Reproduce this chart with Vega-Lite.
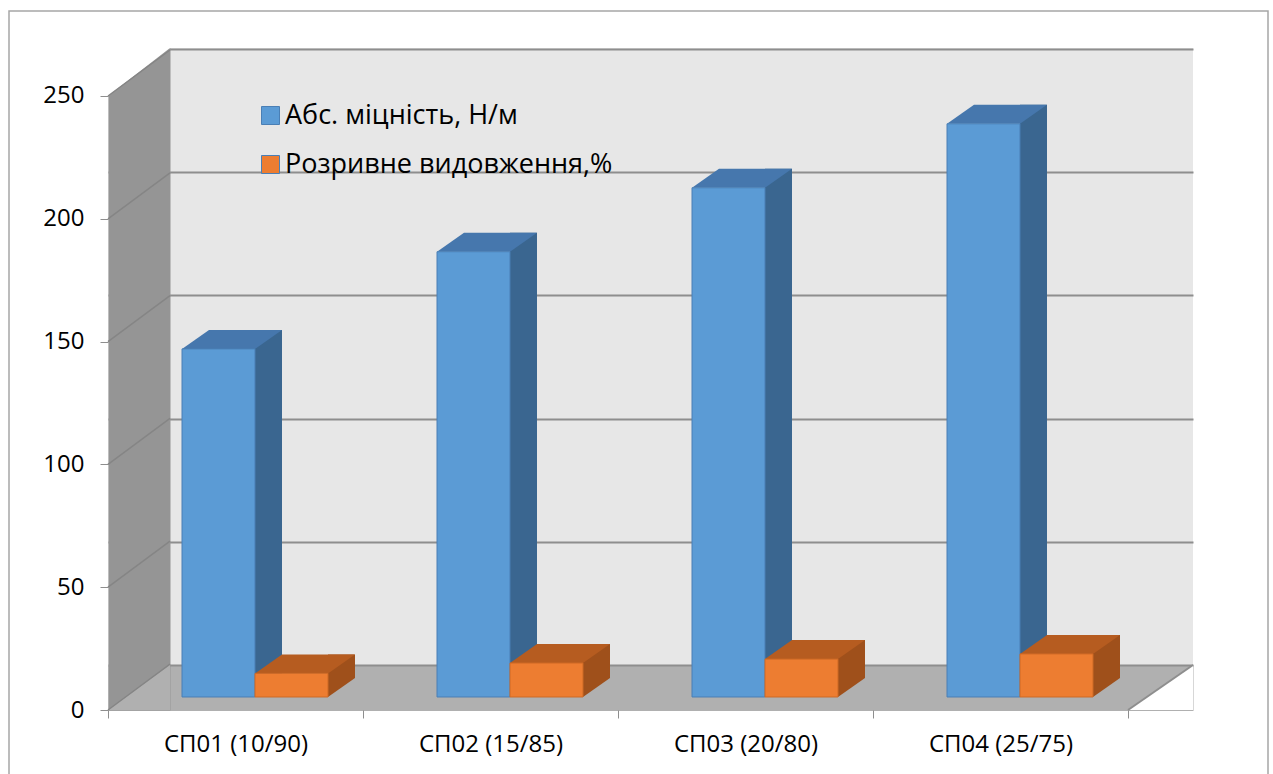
{
  "$schema": "https://vega.github.io/schema/vega-lite/v6.json",
  "width": 1085,
  "height": 662,
  "autosize": {"type": "none"},
  "padding": {"left": 108, "top": 48, "right": 80, "bottom": 64},
  "background": "white",
  "config": {
    "view": {"stroke": null, "fill": "#e7e7e7"},
    "font": "Open Sans, Lato, sans-serif"
  },
  "data": {
    "values": [
      {"cat": "СП01 (10/90)", "series": "Абс. міцність, Н/м", "value": 141.5},
      {"cat": "СП02 (15/85)", "series": "Абс. міцність, Н/м", "value": 181},
      {"cat": "СП03 (20/80)", "series": "Абс. міцність, Н/м", "value": 207},
      {"cat": "СП04 (25/75)", "series": "Абс. міцність, Н/м", "value": 233},
      {"cat": "СП01 (10/90)", "series": "Розривне видовження,%", "value": 9.6},
      {"cat": "СП02 (15/85)", "series": "Розривне видовження,%", "value": 13.8},
      {"cat": "СП03 (20/80)", "series": "Розривне видовження,%", "value": 15.4},
      {"cat": "СП04 (25/75)", "series": "Розривне видовження,%", "value": 17.5}
    ]
  },
  "resolve": {"scale": {"y": "independent"}},
  "layer": [
    {
      "mark": {"type": "point", "opacity": 0},
      "encoding": {
        "y": {
          "field": "value", "type": "quantitative",
          "scale": {"domain": [-18.26, 250.4], "nice": false, "zero": false},
          "axis": {
            "orient": "left", "offset": -31, "title": null,
            "values": [-9.13, 0, 50, 100, 150, 200, 250],
            "labels": false, "ticks": false,
            "domain": true, "domainColor": "#959595", "domainWidth": 62,
            "grid": true,
            "gridColor": {"condition": {"test": "datum.value < -1", "value": "#b0b0b0"}, "value": "#8e8e8e"},
            "gridWidth": {"condition": {"test": "datum.value < -1", "value": 45}, "value": 2}
          }
        },
        "fill": {
          "datum": 0.5, "type": "quantitative",
          "scale": {"domain": [0, 1], "range": ["rgba(255,255,255,0)", "rgba(255,255,255,0)"]},
          "legend": {
            "orient": "none", "legendX": -99, "legendY": -37, "title": null,
            "direction": "vertical", "gradientLength": 800, "gradientThickness": 1259,
            "gradientStrokeColor": "#a6a6a6", "gradientStrokeWidth": 1.5,
            "labelExpr": "''", "labelOpacity": 0, "padding": 0
          }
        }
      }
    },
    {
      "mark": {"type": "point", "opacity": 0},
      "encoding": {
        "y": {
          "field": "value", "type": "quantitative",
          "scale": {"domain": [0, 269.54], "nice": false},
          "axis": {
            "orient": "left", "title": null,
            "values": [0, 50, 100, 150, 200, 250],
            "grid": false, "domain": false,
            "tickSize": 8, "tickColor": "#8e8e8e", "tickWidth": 1,
            "labelFontSize": 24, "labelColor": "#000000", "labelPadding": 16
          }
        }
      }
    },
    {
      "transform": [{"filter": "datum.series === 'Абс. міцність, Н/м'"}],
      "mark": {"type": "bar", "color": "#3a6690", "width": {"band": 0.10588}, "xOffset": 33, "yOffset": -19, "y2Offset": -19},
      "encoding": {
        "x": {
          "field": "cat", "type": "nominal", "sort": null,
          "scale": {"domain": ["СП01 (10/90)", "СП02 (15/85)", "СП03 (20/80)", "СП04 (25/75)"], "paddingInner": 0, "paddingOuter": 0.12745, "align": 0},
          "axis": {
            "title": null, "domain": false, "tickBand": "extent", "tickSize": 8,
            "tickColor": "#8e8e8e", "labelFontSize": 24, "labelColor": "#000000",
            "labelPadding": 14, "labelAngle": 0, "labelAlign": "center", "grid": false
          }
        },
        "y": {"field": "value", "type": "quantitative", "scale": {"domain": [-5.285, 263.82], "nice": false, "zero": false}, "axis": null},
        "y2": {"datum": 0}
      }
    },
    {
      "transform": [{"filter": "datum.series === 'Абс. міцність, Н/м'"}],
      "mark": {"type": "point", "shape": "M -1 0.19 L 0.46 0.19 L 1 -0.19 L -0.46 -0.19 Z", "size": 10000, "filled": true, "opacity": 1, "color": "#4677ad", "strokeWidth": 0, "xOffset": -3.5, "yOffset": -9.5},
      "encoding": {
        "x": {"field": "cat", "type": "nominal", "sort": null},
        "y": {"field": "value", "type": "quantitative", "scale": {"domain": [-5.285, 263.82], "nice": false, "zero": false}, "axis": null}
      }
    },
    {
      "transform": [{"filter": "datum.series === 'Абс. міцність, Н/м'"}],
      "mark": {"type": "bar", "width": {"band": 0.28627}, "xOffset": -17, "stroke": "#4a7fb5", "strokeWidth": 1},
      "encoding": {
        "x": {"field": "cat", "type": "nominal", "sort": null},
        "y": {"field": "value", "type": "quantitative", "scale": {"domain": [-5.285, 263.82], "nice": false, "zero": false}, "axis": null},
        "y2": {"datum": 0},
        "color": {
          "field": "series", "type": "nominal",
          "scale": {"domain": ["Абс. міцність, Н/м", "Розривне видовження,%"], "range": ["#5b9bd5", "#ed7d31"]},
          "legend": {
            "orient": "none", "legendX": 149, "legendY": 54, "title": null,
            "symbolType": "square", "symbolSize": 324, "symbolStrokeWidth": 1,
            "labelFontSize": 27, "labelColor": "#000000", "labelOffset": 1,
            "rowPadding": 21, "padding": 0, "labelLimit": 500
          }
        }
      }
    },
    {
      "transform": [{"filter": "datum.series === 'Розривне видовження,%'"}],
      "mark": {"type": "bar", "color": "#9f501b", "width": {"band": 0.10588}, "xOffset": 106, "yOffset": -19, "y2Offset": -19},
      "encoding": {
        "x": {"field": "cat", "type": "nominal", "sort": null},
        "y": {"field": "value", "type": "quantitative", "scale": {"domain": [-5.285, 263.82], "nice": false, "zero": false}, "axis": null},
        "y2": {"datum": 0}
      }
    },
    {
      "transform": [{"filter": "datum.series === 'Розривне видовження,%'"}],
      "mark": {"type": "point", "shape": "M -0.27 -0.19 L -0.27 0.19 L 0.27 -0.19 Z", "size": 10000, "filled": true, "opacity": 1, "color": "#9f501b", "strokeWidth": 0, "xOffset": 106, "yOffset": -9.5},
      "encoding": {
        "x": {"field": "cat", "type": "nominal", "sort": null},
        "y": {"datum": 0, "type": "quantitative", "scale": {"domain": [-5.285, 263.82], "nice": false, "zero": false}, "axis": null}
      }
    },
    {
      "transform": [{"filter": "datum.series === 'Розривне видовження,%'"}],
      "mark": {"type": "point", "shape": "M -1 0.19 L 0.46 0.19 L 1 -0.19 L -0.46 -0.19 Z", "size": 10000, "filled": true, "opacity": 1, "color": "#b65c20", "strokeWidth": 0, "xOffset": 69.5, "yOffset": -9.5},
      "encoding": {
        "x": {"field": "cat", "type": "nominal", "sort": null},
        "y": {"field": "value", "type": "quantitative", "scale": {"domain": [-5.285, 263.82], "nice": false, "zero": false}, "axis": null}
      }
    },
    {
      "transform": [{"filter": "datum.series === 'Розривне видовження,%'"}],
      "mark": {"type": "bar", "width": {"band": 0.28627}, "xOffset": 56, "stroke": "#cf6a26", "strokeWidth": 1},
      "encoding": {
        "x": {"field": "cat", "type": "nominal", "sort": null},
        "y": {"field": "value", "type": "quantitative", "scale": {"domain": [-5.285, 263.82], "nice": false, "zero": false}, "axis": null},
        "y2": {"datum": 0},
        "color": {
          "field": "series", "type": "nominal",
          "scale": {"domain": ["Абс. міцність, Н/м", "Розривне видовження,%"], "range": ["#5b9bd5", "#ed7d31"]}
        }
      }
    },
    {
      "data": {"values": [{"cat": "СП01 (10/90)"}]},
      "mark": {"type": "point", "shape": "M -0.62 -0.48 L 0.62 -0.48 L -0.62 0.48 Z", "size": 10000, "filled": true, "opacity": 1, "color": "#ffffff", "strokeWidth": 0, "xOffset": -96.5, "yOffset": 23},
      "encoding": {
        "x": {"field": "cat", "type": "nominal", "sort": null},
        "y": {"datum": 250, "type": "quantitative", "scale": {"domain": [-18.26, 250.4], "nice": false, "zero": false}, "axis": null}
      }
    },
    {
      "data": {"values": [{"cat": "СП01 (10/90)"}]},
      "mark": {"type": "point", "shape": "M -0.62 0.45 L 0.62 -0.45 L 0.62 0.45 Z", "size": 10000, "filled": true, "opacity": 1, "color": "#b0b0b0", "strokeWidth": 0, "xOffset": -96.5, "yOffset": 0},
      "encoding": {
        "x": {"field": "cat", "type": "nominal", "sort": null},
        "y": {"datum": -9.13, "type": "quantitative", "scale": {"domain": [-18.26, 250.4], "nice": false, "zero": false}, "axis": null}
      }
    },
    {
      "data": {"values": [{"cat": "СП04 (25/75)"}]},
      "mark": {"type": "point", "shape": "M -0.65 0.45 L 0.65 0.45 L 0.65 -0.45 Z", "size": 10000, "filled": true, "opacity": 1, "color": "#ffffff", "strokeWidth": 0, "xOffset": 160, "yOffset": 0},
      "encoding": {
        "x": {"field": "cat", "type": "nominal", "sort": null},
        "y": {"datum": -9.13, "type": "quantitative", "scale": {"domain": [-18.26, 250.4], "nice": false, "zero": false}, "axis": null}
      }
    },
    {
      "data": {"values": [{"cat": "СП04 (25/75)"}]},
      "mark": {"type": "point", "shape": "M -0.65 0.45 L 0.65 -0.45", "size": 10000, "filled": false, "opacity": 1, "stroke": "#8e8e8e", "strokeWidth": 2, "xOffset": 160, "yOffset": 0},
      "encoding": {
        "x": {"field": "cat", "type": "nominal", "sort": null},
        "y": {"datum": -9.13, "type": "quantitative", "scale": {"domain": [-18.26, 250.4], "nice": false, "zero": false}, "axis": null}
      }
    },
    {
      "data": {"values": [
        {"cat": "СП01 (10/90)", "tick": 0},
        {"cat": "СП01 (10/90)", "tick": 50},
        {"cat": "СП01 (10/90)", "tick": 100},
        {"cat": "СП01 (10/90)", "tick": 150},
        {"cat": "СП01 (10/90)", "tick": 200},
        {"cat": "СП01 (10/90)", "tick": 250}
      ]},
      "mark": {"type": "point", "shape": "M -0.62 0.46 L 0.62 -0.46", "size": 10000, "filled": false, "opacity": 1, "stroke": "#858585", "strokeWidth": 1.5, "xOffset": -96.5, "yOffset": -23},
      "encoding": {
        "x": {"field": "cat", "type": "nominal", "sort": null},
        "y": {"field": "tick", "type": "quantitative", "scale": {"domain": [0, 269.54], "nice": false}, "axis": null}
      }
    }
  ]
}
